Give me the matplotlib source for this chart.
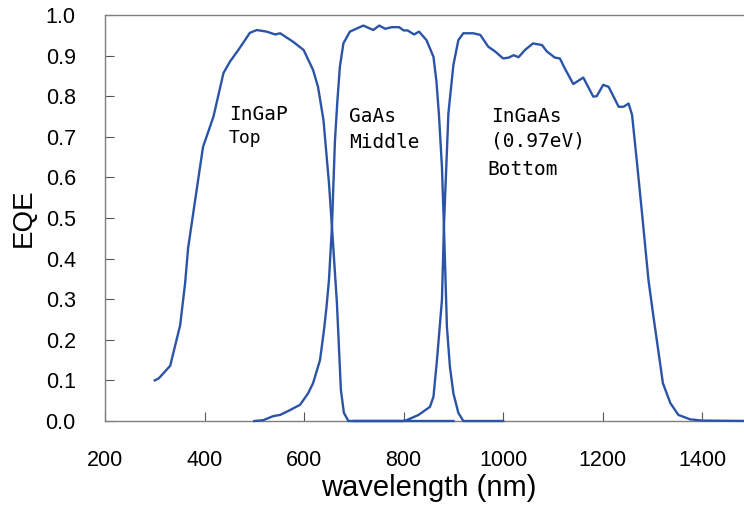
import matplotlib
matplotlib.use("Agg")
import matplotlib.pyplot as plt

# EQE curves of the three sub-cells
ingap_wl = [300, 308, 331, 351, 361, 367, 390, 397, 418, 438, 451, 468, 491,
            505, 525, 542, 552, 578, 599, 618, 628, 639, 650, 656, 666, 674,
            680, 689, 900]
ingap_eqe = [0.10, 0.105, 0.136, 0.236, 0.34, 0.426, 0.618, 0.675, 0.75,
             0.857, 0.885, 0.914, 0.956, 0.963, 0.959, 0.952, 0.955, 0.934,
             0.914, 0.865, 0.823, 0.741, 0.586, 0.479, 0.29, 0.076, 0.02,
             0.0, 0.0]

gaas_wl = [500, 518, 538, 552, 572, 592, 608, 618, 632, 640, 645, 650, 656,
           662, 667, 672, 679, 692, 719, 739, 751, 763, 776, 791, 800, 808,
           821, 831, 846, 860, 866, 871, 877, 881, 887, 893, 900, 910, 920,
           1000]
gaas_eqe = [0.0, 0.002, 0.012, 0.015, 0.027, 0.04, 0.068, 0.093, 0.15, 0.224,
            0.28, 0.347, 0.479, 0.69, 0.79, 0.873, 0.93, 0.959, 0.974, 0.963,
            0.974, 0.966, 0.97, 0.97, 0.962, 0.962, 0.952, 0.959, 0.938,
            0.897, 0.836, 0.754, 0.626, 0.479, 0.232, 0.134, 0.068, 0.02,
            0.0, 0.0]

ingaas_wl = [700, 799, 806, 830, 853, 860, 867, 877, 881, 890, 900, 910, 920,
             940, 954, 970, 984, 1000, 1011, 1021, 1031, 1044, 1060, 1078,
             1088, 1104, 1114, 1124, 1141, 1161, 1181, 1188, 1201, 1212, 1232,
             1242, 1252, 1259, 1269, 1279, 1292, 1302, 1321, 1336, 1352, 1376,
             1400, 1500]
ingaas_eqe = [0.0, 0.0, 0.002, 0.015, 0.035, 0.06, 0.15, 0.298, 0.479, 0.758,
              0.877, 0.938, 0.955, 0.955, 0.951, 0.922, 0.91, 0.893, 0.895,
              0.901, 0.896, 0.914, 0.93, 0.926, 0.91, 0.895, 0.893, 0.868,
              0.83, 0.846, 0.799, 0.80, 0.828, 0.823, 0.774, 0.774, 0.782,
              0.754, 0.635, 0.512, 0.347, 0.257, 0.093, 0.044, 0.015, 0.004,
              0.001, 0.0]

x_ticks = [200, 400, 600, 800, 1000, 1200, 1400]
y_ticks = [0.0, 0.1, 0.2, 0.3, 0.4, 0.5, 0.6, 0.7, 0.8, 0.9, 1.0]

LINE = "#2b54a6"
GRAY = "#7f7f7f"

plt.rcParams["font.family"] = ["Liberation Sans", "DejaVu Sans"]

fig = plt.figure(figsize=(7.44, 5.09), dpi=100)
# axes runs a little past the right edge of the figure, as in the reference
ax = fig.add_axes([105 / 744, 88 / 509, 647 / 744, 406 / 509])

for wl, eqe in [(ingap_wl, ingap_eqe), (gaas_wl, gaas_eqe),
                (ingaas_wl, ingaas_eqe)]:
    ax.plot(wl, eqe, color=LINE, lw=1.7, clip_on=False, zorder=3,
            solid_joinstyle="round")

ax.set_xlim(200, 1500)
ax.set_ylim(0, 1.0)
ax.set_xticks(x_ticks)
ax.set_yticks(y_ticks)
ax.set_yticklabels([f"{v:.1f}" for v in y_ticks])

for side in ["left", "bottom", "top"]:
    ax.spines[side].set_color(GRAY)
    ax.spines[side].set_linewidth(1.0)
ax.spines["right"].set_visible(False)
ax.tick_params(direction="in", length=6.5, width=0.8, color="#555555",
               labelsize=15.5, pad=21)

ax.set_xlabel("wavelength (nm)", fontsize=21, labelpad=2)
ax.set_ylabel("EQE", fontsize=20, labelpad=6)

mono = dict(family="DejaVu Sans Mono", fontsize=14, ha="left", va="baseline")
ax.text(449, 0.741, "InGaP", **mono)
ax.text(449, 0.685, "Top", family="DejaVu Sans Mono", fontsize=13,
        ha="left", va="baseline")
ax.text(691, 0.737, "GaAs", **mono)
ax.text(691, 0.672, "Middle", **mono)
ax.text(975, 0.737, "InGaAs", **mono)
ax.text(975, 0.676, "(0.97eV)", **mono)
ax.text(969, 0.606, "Bottom", **mono)

fig.savefig("out.png", dpi=100)
